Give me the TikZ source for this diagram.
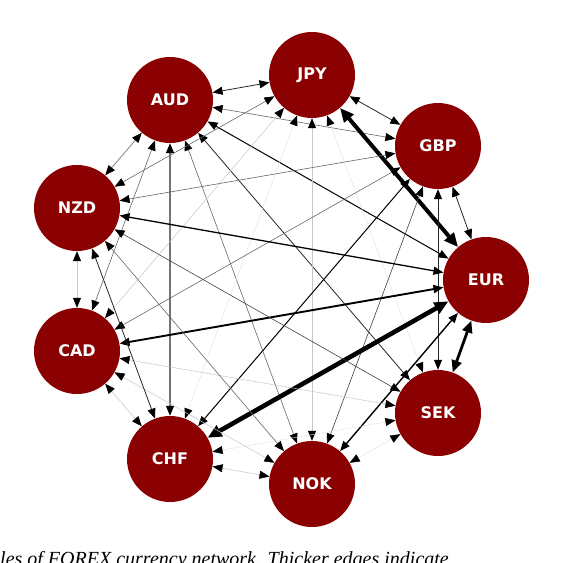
\documentclass[tikz,border=0pt]{standalone}
\usepackage{fontspec}
\newfontfamily\nodefont{DejaVu Sans}
\newfontfamily\capfont{Liberation Serif}
\usetikzlibrary{arrows.meta}
\definecolor{fxred}{RGB}{139,0,0}

\begin{document}
\begin{tikzpicture}[x=1pt, y=-1pt,
  cur/.style={circle, fill=fxred, minimum size=86pt, inner sep=0pt,
    text=white, font=\nodefont\bfseries\fontsize{16}{16}\selectfont},
  link/.style={arrows={Triangle[length=10pt,width=8pt,color=black]-Triangle[length=10pt,width=8pt,color=black]}},
  faintlink/.style={link, draw=gray!25, line width=0.4pt},
  lightlink/.style={link, draw=gray!45, line width=0.5pt},
  medlink/.style={link, draw=black!60, line width=0.6pt},
  darklink/.style={link, draw=black!85, line width=0.8pt},
  blacklink/.style={link, draw=black, line width=1pt},
  boldlink/.style={link, draw=black, line width=1.6pt},
  thicklink/.style={draw=black, line width=2.8pt,
    arrows={Triangle[length=12pt,width=10pt]-Triangle[length=12pt,width=10pt]}},
  heavylink/.style={draw=black, line width=4pt,
    arrows={Triangle[length=14pt,width=12pt]-Triangle[length=14pt,width=12pt]}},
]
\useasboundingbox (0,0) rectangle (564,562);

% Currencies
\node[cur] (aud) at (170,100) {AUD};
\node[cur] (jpy) at (312,75) {JPY};
\node[cur] (gbp) at (438,146) {GBP};
\node[cur] (eur) at (486,280) {EUR};
\node[cur] (sek) at (438,413) {SEK};
\node[cur] (nok) at (312,484) {NOK};
\node[cur] (chf) at (170,459) {CHF};
\node[cur] (cad) at (77,351) {CAD};
\node[cur] (nzd) at (77,208) {NZD};

% AUD links
\draw[darklink] (aud) -- (jpy);
\draw[medlink] (aud) -- (gbp);
\draw[blacklink] (aud) -- (eur);
\draw[darklink] (aud) -- (sek);
\draw[medlink] (aud) -- (nok);
\draw[medlink, draw=black!55, line width=1.3pt] (aud) -- (chf);
\draw[medlink] (aud) -- (cad);
\draw[medlink] (aud) -- (nzd);

% JPY links
\draw[darklink] (jpy) -- (gbp);
\draw[heavylink] (jpy) -- (eur);
\draw[faintlink] (jpy) -- (sek);
\draw[lightlink] (jpy) -- (nok);
\draw[faintlink] (jpy) -- (chf);
\draw[lightlink] (jpy) -- (cad);
\draw[medlink] (jpy) -- (nzd);

% GBP links
\draw[darklink] (gbp) -- (eur);
\draw[darklink] (gbp) -- (sek);
\draw[medlink, draw=black!75] (gbp) -- (nok);
\draw[blacklink] (gbp) -- (chf);
\draw[medlink] (gbp) -- (cad);
\draw[medlink] (gbp) -- (nzd);

% EUR links
\draw[thicklink] (eur) -- (sek);
\draw[boldlink, line width=1.4pt] (eur) -- (nok);
\draw[heavylink, line width=4.6pt] (eur) -- (chf);
\draw[boldlink, line width=1.9pt] (eur) -- (cad);
\draw[boldlink, line width=1.3pt] (eur) -- (nzd);

% SEK links
\draw[faintlink] (sek) -- (nok);
\draw[faintlink] (sek) -- (chf);
\draw[lightlink] (sek) -- (cad);
\draw[medlink, draw=black!75] (sek) -- (nzd);

% NOK, CHF, CAD links
\draw[lightlink] (nok) -- (chf);
\draw[lightlink] (nok) -- (cad);
\draw[medlink] (nok) -- (nzd);
\draw[lightlink] (chf) -- (cad);
\draw[darklink] (chf) -- (nzd);
\draw[lightlink] (cad) -- (nzd);

% caption, cut by the page edge
\node[anchor=base west, inner sep=0pt, font=\capfont\itshape\fontsize{20}{20}\selectfont]
  (cap) at (0,565) {les of FOREX currency network. Thicker edges indicate};
\end{tikzpicture}
\end{document}
